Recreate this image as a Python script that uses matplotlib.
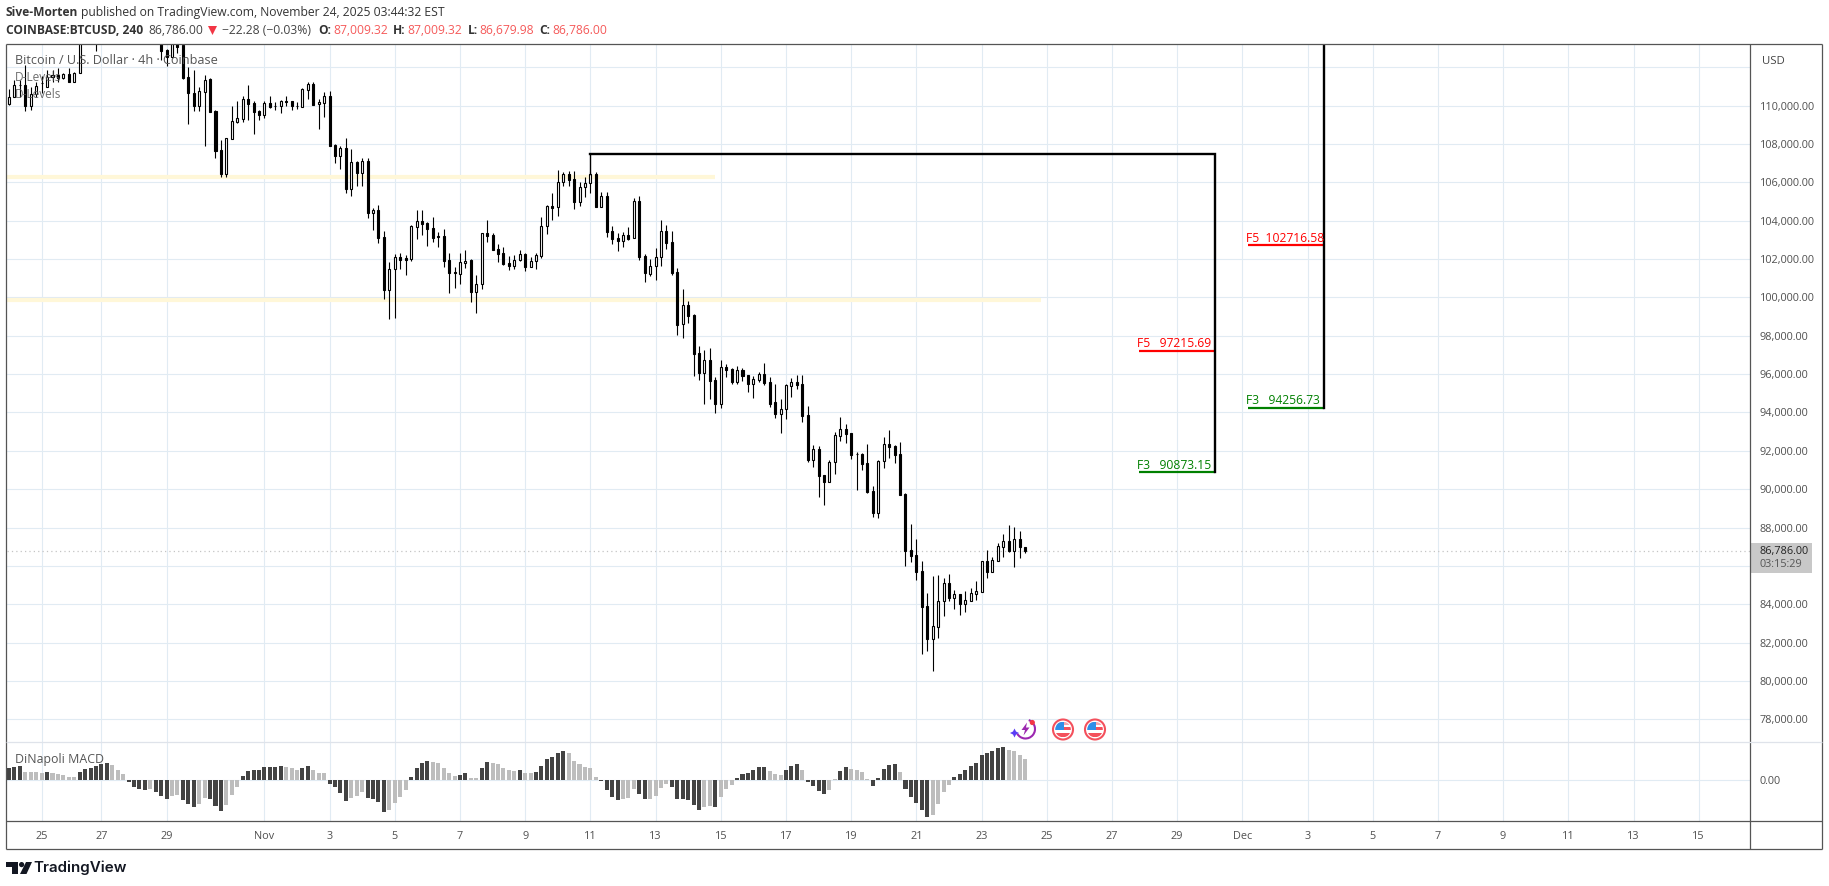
import matplotlib
matplotlib.use("Agg")
import matplotlib.pyplot as plt
from matplotlib.patches import Circle, Polygon, Rectangle, Arc

plt.rcParams['font.family'] = ['Open Sans', 'DejaVu Sans']

# ---- candles (4h BTCUSD), index = bar number ----
opens = [110066,110465,111074,111074,109996,110587,111161,110987,111473,111595,
 111421,111630,111248,111717,113900,114500,114800,114100,114700,115200,
 115500,115800,115300,115000,114500,114800,114600,114300,113900,112899,
 112516,113300,113159,111473,110674,109996,110726,111369,109736,107685,
 106433,108276,109162,109301,110344,110153,109736,109527,110153,109996,
 109996,110239,110239,109996,109944,110813,111126,110066,110153,110500,
 107945,107389,107772,105669,107042,106503,107110,104417,104538,103130,
 100402,101462,102088,102036,102001,103687,103965,103860,103600,103183,
 103183,101931,101306,101236,101810,101949,100298,100680,103339,103235,
 102505,102296,101775,101653,101931,102244,101601,101879,102175,103704,
 104764,104695,106000,106433,106172,104990,105772,105946,106433,104729,
 105268,103461,103096,102957,103235,103078,105025,102140,101236,101618,
 102088,103461,102887,101323,98594,99585,99081,97082,96074,96717,
 95692,94458,96352,96265,95605,96196,95935,95500,95709,95987,
 95570,94527,93919,94162,95396,95570,95466,93867,91538,92077,
 90721,90391,91399,92789,93120,92911,91851,91851,91347,89887,
 88775,91451,92337,92251,91833,89748,86811,86550,85716,83908,
 82205,82831,84151,85090,84343,84516,84030,84186,84551,84655,
 86237,85698,86272,87002,87280,86776,87384,87009]
highs = [110848,111334,111334,112117,110987,111248,111543,111856,111856,111943,
 111717,111943,111734,114300,114900,115300,115400,115000,115600,116000,
 116300,116400,115900,115500,115100,115400,115000,114700,114000,112950,
 113400,113500,113300,111995,111856,110987,111595,111421,109770,108206,
 108293,109979,110239,110500,111074,110239,109770,110239,110500,110205,
 110292,110500,110239,110170,110935,111213,111213,110326,110691,110761,
 107997,107893,108293,107737,107128,107250,107250,104642,104816,103461,
 101827,102261,102314,102192,103756,104556,104556,103930,104191,103391,
 103548,102296,101566,102314,102470,102001,101149,103339,104034,103339,
 102783,102609,102140,102192,102470,102314,102088,102296,104191,104816,
 105442,106641,106537,106589,106589,106000,106259,106537,106537,105477,
 105477,103721,103356,103408,103669,105181,105286,102261,102001,102557,
 104034,103774,103461,101531,100437,99811,99116,97465,97256,97360,
 95831,96717,96526,96300,96422,96300,95935,95900,96109,96578,
 95831,95483,94701,95483,95779,95953,95953,94319,92303,92251,
 90721,91503,92963,93745,93398,92911,91938,91886,92355,90165,
 91521,92720,93067,92285,92442,89783,88184,87384,86237,84586,
 85472,85525,85368,85577,84725,84516,84690,84829,85194,86272,
 86828,86463,87176,87645,88114,88027,87819,87009]
lows = [110048,110431,110465,109736,109788,110465,110674,110987,111248,111248,
 111369,111248,111248,111717,113500,114100,112846,113600,114300,114800,
 115000,115100,114700,114200,113900,114300,113900,113500,112377,112082,
 112516,112725,111369,109023,109736,109736,107893,109683,107285,106294,
 106294,108276,109075,109162,109249,108519,109249,109370,109892,109770,
 109631,109996,109770,109822,109944,110326,110048,108797,109423,107910,
 107024,106711,105460,105304,105825,105825,104139,103513,102852,99915,
 98872,98942,101479,101167,101896,103044,103252,102679,102887,102626,
 101584,100228,100489,100697,101531,99759,99185,100437,102887,102470,
 101844,101688,101427,101479,101914,101375,101601,101479,102053,103304,
 104034,104243,105807,105807,104608,104781,105233,105442,104729,104729,
 103148,102783,102418,102626,102991,103078,101949,100802,101114,100906,
 101636,102522,101167,98038,97882,98664,95900,95692,94440,94701,
 93971,94232,95848,95483,95483,95640,95066,94753,95570,95431,
 94266,93693,92928,93658,94805,95222,93502,91416,91156,89609,
 89192,90391,90808,92529,92424,91573,89956,91017,89817,88549,
 88514,91103,91642,91382,89713,85994,86202,85264,81405,81579,
 80536,82240,83387,84186,83752,83456,83595,84186,84221,84655,
 85385,85698,86272,86480,86741,85959,86428,86680]
closes = [110431,111074,111060,109996,110587,111022,111180,111508,111595,111421,
 111630,111248,111717,113900,114500,114800,114100,114700,115200,115500,
 115800,115300,115000,114500,114800,114600,114300,113900,112846,112551,
 113250,113072,111421,110639,109996,110761,111334,109683,107650,106433,
 108293,109197,109336,110344,110083,109683,109510,110153,109944,109980,
 110239,110205,109996,109980,110865,111126,110048,110170,110500,107910,
 107389,107806,105669,107042,106503,107094,104417,104538,103096,100402,
 101462,102088,101949,101966,103704,103965,103843,103582,103096,103170,
 101914,101288,101290,101827,101914,100298,100680,103339,103200,102487,
 102279,101740,101653,101931,102244,101601,101879,102192,103704,104747,
 104677,106000,106433,106137,104990,105772,105946,106415,104729,105268,
 103426,103061,102957,103235,103061,105025,102122,101253,101618,102088,
 103461,102852,101253,98577,99585,99046,97065,96074,96717,95657,
 94458,96352,96231,95570,96196,95918,95483,95727,95987,95553,
 94440,93919,94162,95431,95570,95431,93815,91521,92077,90704,
 90391,91416,92807,93120,92894,91781,91835,91329,89852,88775,
 91468,92337,92216,91781,89713,86793,86533,85698,83873,82205,
 82848,84151,85090,84343,84516,84030,84204,84569,84673,86237,
 85698,86289,87019,87280,86776,87384,87009,86786]

# ---- DiNapoli MACD histogram ----
macd_vals = [36,39,41,24,24,24,21,23,19,17,
 14,8,8,24,32,35,42,46,50,44,
 29,18,-7,-23,-29,-30,-27,-37,-48,-57,
 -48,-46,-61,-72,-82,-73,-55,-58,-79,-93,
 -76,-46,-22,11,26,29,29,38,39,39,
 41,37,34,30,36,41,29,21,21,-13,
 -23,-39,-63,-54,-48,-37,-55,-58,-66,-96,
 -91,-69,-52,-30,8,36,50,56,54,50,
 35,20,12,14,20,5,5,35,53,49,
 46,35,29,26,29,20,20,23,41,62,
 68,80,86,80,56,47,38,35,8,-4,
 -31,-52,-61,-58,-55,-28,-43,-58,-58,-49,
 -25,-14,-22,-58,-58,-61,-76,-91,-82,-79,
 -82,-52,-28,-16,5,17,20,29,38,38,
 26,17,14,29,41,47,29,-7,-19,-34,
 -43,-31,1,26,38,32,29,23,2,-19,
 5,32,44,47,23,-28,-52,-70,-91,-112,
 -106,-73,-37,-16,8,17,29,41,50,74,
 80,86,95,98,89,86,74,62]
macd_shade = ("dddlllldll" "lllddddddl" "llddddlddd" "lldddllddd" "lllddddddd"
              "dlllddllld" "dddllldddd" "llllddddll" "lllddllddl" "lllldllddd"
              "dddlllllld" "dddlllddll" "llddddddll" "dllldddddd" "llldddlddd"
              "dllddlllld" "ddddlddddd" "lllldddddd" "ddddllll")

# ---- axis ticks ----
date_ticks = [6,17,29,47,59,71,83,95,107,119,131,143,155,167,179,191,203,215,227,239,251,263,275,287,299,311]
date_labels = ['25','27','29','Nov','3','5','7','9','11','13','15','17','19','21','23','25','27','29','Dec','3','5','7','9','11','13','15']
price_ticks = list(range(78000, 114000, 2000))
hidden_price_labels = [86000, 112000]
price_labels = [f"{v:,.2f}" if v not in hidden_price_labels else "" for v in price_ticks]
last_price = 86786.00

# ---- annotations ----
zone_prices = [106276, 99870]
zone_ends = [130, 190]
bracket1_x = [107, 107, 222, 222]
bracket1_y = [106415, 107474, 107474, 90873.15]
bracket2_x = [242, 242]
bracket2_y = [94256.73, 116000]
levels_a = [("F5   97215.69", 97215.69, '#ff0000'), ("F3   90873.15", 90873.15, '#008000')]
levels_b = [("F5  102716.58", 102716.58, '#ff0000'), ("F3   94256.73", 94256.73, '#008000')]
levels_a_span = [208, 222]
levels_b_span = [228, 242]

GRID = '#e1ebf3'
FRAME = '#555555'
AX_TXT = '#505050'
TICK_PT = 7.8

W, H = 1829, 886
fig = plt.figure(figsize=(W/100, H/100), dpi=100, facecolor='white')
L, R = 6.5, 1750
ax = fig.add_axes([L/W, (H-742)/H, (R-L)/W, (742-44)/H])
mx = fig.add_axes([L/W, (H-821)/H, (R-L)/W, (821-742)/H], sharex=ax)
for a in (ax, mx):
    for s in a.spines.values():
        s.set_visible(False)
    a.set_axisbelow(True)
    a.grid(True, color=GRID, lw=0.8)
    a.tick_params(axis='both', length=0, labelsize=TICK_PT, labelcolor=AX_TXT)
    a.tick_params(axis='y', left=False, labelleft=False, labelright=True, pad=7.2)
    a.yaxis.tick_right()
    a.patch.set_alpha(0)

ax.set_xlim(-0.4675, 320.44)
ax.set_ylim(76817, 113211)
ax.set_yticks(price_ticks)
ax.set_yticklabels(price_labels)
ax.set_xticks(date_ticks)
ax.tick_params(axis='x', labelbottom=False)

idx = list(range(len(opens)))
# zones
ax.hlines(zone_prices, -0.4675, zone_ends, color='#fff7d8', lw=3.0, zorder=1.5)
ax.axhline(last_price, color='#c4c4c4', lw=0.9, ls=(0, (1, 2.5)), zorder=1.6)
# candles
ax.vlines(idx, lows, highs, color='black', lw=0.8, zorder=3)
bottoms = [min(o, c) for o, c in zip(opens, closes)]
sizes = [abs(o - c) for o, c in zip(opens, closes)]
faces = ['white' if c >= o else 'black' for o, c in zip(opens, closes)]
ax.bar(idx, sizes, width=0.37, bottom=bottoms, color=faces, edgecolor='black', lw=0.8, zorder=3.2)

# bracket lines and levels
ax.plot(bracket1_x[:2], bracket1_y[:2], color='black', lw=1.0, zorder=4)
ax.plot(bracket1_x[1:], bracket1_y[1:], color='black', lw=1.7, zorder=4, solid_joinstyle='miter')
ax.plot(bracket2_x, bracket2_y, color='black', lw=1.7, zorder=4)
for span, levels in ((levels_a_span, levels_a), (levels_b_span, levels_b)):
    for label, price, col in levels:
        ax.plot(span, [price, price], color=col, lw=1.6, zorder=3.8, solid_capstyle='butt')
        ax.annotate(label, (span[0], price), xytext=(-1.2, 0.2), textcoords='offset points',
                    color=col, fontsize=8.7, ha='left', va='bottom', zorder=5)

# MACD
mx.set_ylim(-124.5, 112.5)
mx.set_yticks([0])
mx.set_yticklabels(['0.00'])
mx.set_xticks(date_ticks)
mx.set_xticklabels(date_labels)
mx.tick_params(axis='x', pad=7.2)
assert len(macd_vals) == len(opens) == len(macd_shade)
mx.bar(idx, macd_vals, width=0.74, lw=0,
       color=['#434343' if s == 'd' else '#bdbdbd' for s in macd_shade], zorder=3)

# ---- overlay in image pixels: frame, header, icons ----
ov = fig.add_axes([0, 0, 1, 1], zorder=10)
ov.set_xlim(0, W)
ov.set_ylim(H, 0)
ov.axis('off')
ov.patch.set_alpha(0)

for xs, ys, c, lw in [
    ([6, 1822], [44, 44], FRAME, 0.9), ([6, 6], [44, 849], FRAME, 0.9),
    ([1822, 1822], [44, 849], FRAME, 0.9), ([6, 1822], [849, 849], FRAME, 0.9),
    ([1750, 1750], [44, 849], FRAME, 0.9), ([6, 1822], [821, 821], FRAME, 0.9),
    ([6, 1822], [742, 742], '#dfe3ea', 0.9)]:
    ov.plot(xs, ys, color=c, lw=lw, solid_capstyle='butt')

def t(x, y, s, color='#2f2f2f', size=8.75, weight='normal', family=None, alpha=None):
    kw = {'family': family} if family else {}
    ov.text(x, y, s, color=color, fontsize=size, fontweight=weight, ha='left', va='center', alpha=alpha, **kw)

t(6, 12.5, 'Sive-Morten', weight='bold', color='#333333', size=8.65)
t(81, 12.5, 'published on TradingView.com, November 24, 2025 03:44:32 EST', color='#333333')
RED = '#f55a5a'
t(6, 30, 'COINBASE:BTCUSD, 240', weight='bold', color='#333333', size=8.65)
t(148, 30, '86,786.00', color='#444444')
ov.add_patch(Polygon([[208, 26], [217, 26], [212.5, 35]], color='#f23645', lw=0))
t(222, 30, '\u221222.28 (\u22120.03%)', color='#444444')
for x1, lab, x2, val in [(318, 'O:', 333, '87,009.32'), (393, 'H:', 407, '87,009.32'),
                         (468, 'L:', 479, '86,679.98'), (539, 'C:', 552, '86,786.00')]:
    t(x1, 30, lab, weight='bold', color='#333333', size=8.65)
    t(x2, 30, val, color=RED)

t(15, 60.7, 'Bitcoin / U.S. Dollar \u00b7 4h \u00b7 Coinbase', color='#555555', size=9.05, weight='medium')
t(15, 77.7, 'D-Levels', color='#555555', size=8.6, alpha=0.85)
t(15, 94.3, 'D-Levels', color='#555555', size=8.6, alpha=0.85)
t(15, 759.7, 'DiNapoli MACD', color='#555555', size=8.9)
t(1762, 61, 'USD', color='#444444', size=8.2)

ov.add_patch(Rectangle((1751, 543), 61, 30, color='#c8c8c8', lw=0))
t(1759, 551.5, f"{last_price:,.2f}", color='#222222', size=TICK_PT)
t(1759, 564.5, '03:15:29', color='#555555', size=TICK_PT)

# TradingView logo
LOGO = '#131722'
ov.add_patch(Polygon([[6.3, 862], [17.5, 862], [17.5, 874], [11.5, 874], [11.5, 867], [6.3, 867]], color=LOGO, lw=0))
ov.add_patch(Circle((21.6, 864.6), 2.6, color=LOGO, lw=0))
ov.add_patch(Polygon([[26, 862], [32, 862], [26.5, 874], [20, 874]], color=LOGO, lw=0))
t(33.8, 868, 'TradingView', color=LOGO, size=10.9, weight='semibold', family=['Inter', 'DejaVu Sans'])

# icons
ov.add_patch(Arc((1025.5, 729), 19, 19, theta1=-70, theta2=150, color='#9c27b0', lw=1.5))
ov.add_patch(Polygon([[1027, 722.5], [1021.5, 730], [1025, 730], [1023.5, 735.5], [1029.5, 727.5], [1026, 727.5]], color='#9c27b0', lw=0))
ov.add_patch(Polygon([[1014.5, 728.5], [1016, 731.5], [1019, 733], [1016, 734.5], [1014.5, 737.5],
                      [1013, 734.5], [1010, 733], [1013, 731.5]], color='#5b3df5', lw=0))
ov.add_patch(Circle((1032.3, 722.5), 2.6, color='#f23645', lw=0))
for cx in (1063, 1095):
    ov.add_patch(Circle((cx, 729.5), 10, facecolor='white', edgecolor='#f4505c', lw=1.5))
    clip = Circle((cx, 729.5), 7.8, transform=ov.transData)
    for (x0, y0, w_, h_, c) in [(cx-8, 722, 16, 2.5, '#f7a6ac'), (cx, 726.5, 8, 3.5, '#f4505c'),
                                (cx-8, 733, 16, 4, '#f4505c'), (cx-8, 721.5, 9, 8.5, '#2f8fe8')]:
        r_ = Rectangle((x0, y0), w_, h_, color=c, lw=0)
        ov.add_patch(r_)
        r_.set_clip_path(clip)

fig.savefig('out.png', dpi=100, facecolor='white')
